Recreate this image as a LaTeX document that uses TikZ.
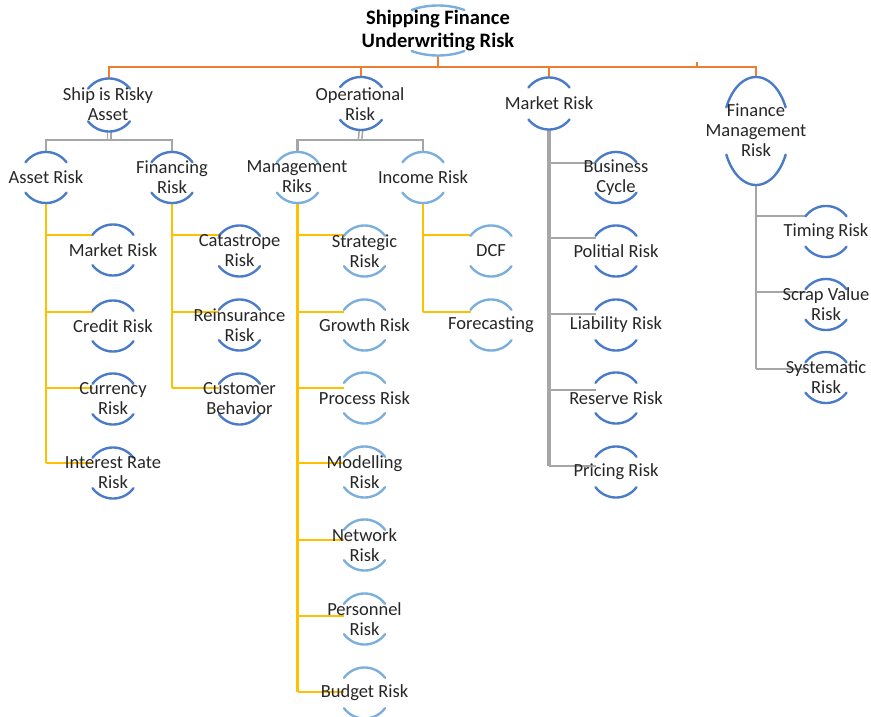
\documentclass[tikz,border=0pt]{standalone}
\usepackage{fontspec}
\setmainfont{Carlito}
\usetikzlibrary{calc}
\definecolor{orng}{HTML}{ED7D31}
\definecolor{yel}{HTML}{FFC000}
\definecolor{gry}{HTML}{A6A6A6}
\definecolor{blu}{HTML}{4A7BC8}
\definecolor{lblu}{HTML}{7AAEDD}
\definecolor{txtcol}{HTML}{262626}
\pgfdeclarelayer{bg}
\pgfsetlayers{bg,main}
\tikzset{
  txt/.style={font=\fontsize{18.5}{20}\selectfont, align=center, inner sep=0pt, text=txtcol},
  ttl/.style={font=\bfseries\fontsize{20.5}{23}\selectfont, align=center, inner sep=0pt, text=black},
  arcline/.style={line width=2.4pt, line cap=round},
  ol/.style={draw=orng, line width=2.5pt},
  yl/.style={draw=yel, line width=2.6pt},
  gl/.style={draw=gry, line width=2.8pt},
  dbl/.style={line width=1.6pt, double=white, double distance=1.8pt},
}
% name, cx, cy, rx, ry, angle, colour
\newcommand\rarcs[7]{%
  \pgfmathsetmacro\myA{180-#6}%
  \pgfmathsetmacro\myB{180+#6}%
  \pgfmathsetmacro\myC{360-#6}%
  \draw[arcline,#7] plot[domain=#6:\myA,samples=40] ({#2+#4*cos(\x)},{#3-#5*sin(\x)});
  \draw[arcline,#7] plot[domain=\myB:\myC,samples=40] ({#2+#4*cos(\x)},{#3-#5*sin(\x)});
  \coordinate (#1-t) at (#2,#3-#5);
  \coordinate (#1-b) at (#2,#3+#5);
}
% name, cx, cy, text, colour, branch y
\newcommand\kid[6]{%
  \rarcs{#1}{#2}{#3}{25.5}{25.5}{36.5}{#5}
  \node[txt] (#1) at (#2,#3) {#4};
  \coordinate (#1-j) at (#2-20.5,#6);
}
\begin{document}
\begin{tikzpicture}[x=1pt,y=-1pt]
\useasboundingbox (0,0) rectangle (871,717);
\clip (0,0) rectangle (871,717);

% title
\rarcs{title}{438}{30.5}{46}{25}{55}{lblu}
\node[ttl] (title) at (438,31) {Shipping Finance\\Underwriting Risk};

% level 1
\rarcs{ship}{109}{105}{26.5}{26.5}{38}{blu}
\node[txt] (ship) at (108,104) {Ship is Risky\\Asset};
\rarcs{oper}{361}{103.5}{26.5}{26.5}{38}{blu}
\node[txt] (oper) at (360,104) {Operational\\Risk};
\rarcs{mktL}{549}{103.5}{26}{26}{38}{blu}
\node[txt] (mktL) at (549,103) {Market Risk};
\rarcs{finm}{756}{131}{33}{54}{26}{blu}
\node[txt] (finm) at (756,130) {Finance\\Management\\Risk};

% level 2
\rarcs{assetrisk}{46}{177.5}{25.5}{25.5}{36.5}{blu}
\node[txt] (assetrisk) at (46,177) {Asset Risk};
\rarcs{financing}{172}{177.5}{25.5}{25.5}{36.5}{blu}
\node[txt] (financing) at (172,177) {Financing\\Risk};
\rarcs{mgmt}{297.5}{177.5}{25.5}{25.5}{36.5}{lblu}
\node[txt] (mgmt) at (297,177) {Management\\Riks};
\rarcs{income}{423}{177.5}{25.5}{25.5}{36.5}{lblu}
\node[txt] (income) at (423,177) {Income Risk};

% asset risk children
\kid{mr}{113}{250}{Market Risk}{blu}{235}
\kid{cr}{113}{326}{Credit Risk}{blu}{312}
\kid{cu}{113}{399}{Currency\\Risk}{blu}{388}
\kid{ir}{113}{473}{Interest Rate\\Risk}{blu}{463}
% financing children
\kid{cat}{239.5}{251}{Catastrope\\Risk}{blu}{235}
\kid{rei}{239.5}{325}{Reinsurance\\Risk}{blu}{312}
\kid{cub}{239.5}{399}{Customer\\Behavior}{blu}{388}
% management children
\kid{str}{364.5}{251}{Strategic\\Risk}{lblu}{235}
\kid{gro}{364.5}{325}{Growth Risk}{lblu}{312}
\kid{pro}{364.5}{398}{Process Risk}{lblu}{388}
\kid{mod}{364.5}{472}{Modelling\\Risk}{lblu}{463}
\kid{net}{364.5}{545}{Network\\Risk}{lblu}{540}
\kid{per}{364.5}{619}{Personnel\\Risk}{lblu}{616}
\kid{bud}{364.5}{693}{Budget Risk}{lblu}{692}
% income children
\kid{dcf}{491}{251}{DCF}{lblu}{235}
\kid{fore}{491}{325}{Forecasting}{lblu}{312}
% market risk children
\kid{bc}{616}{177.5}{Business\\Cycle}{blu}{163}
\kid{pol}{616}{251}{Politial Risk}{blu}{238}
\kid{lia}{616}{325}{Liability Risk}{blu}{314}
\kid{res}{616}{398}{Reserve Risk}{blu}{390}
\kid{pri}{616}{472}{Pricing Risk}{blu}{466}
% finance management children
\kid{tim}{826}{231.5}{Timing Risk}{blu}{216}
\kid{scr}{826}{304.5}{Scrap Value\\Risk}{blu}{292}
\kid{sys}{826}{377.5}{Systematic\\Risk}{blu}{369}

\begin{pgfonlayer}{bg}
% orange level-1 connectors
\coordinate (bus) at (438,67);
\coordinate (tick) at (697,62.5);
\draw[ol] (title-b) -- (bus);
\draw[ol] (ship-t) -- (ship-t |- bus) -- (finm-t |- bus) -- (finm-t);
\draw[ol] (oper-t) -- (oper-t |- bus);
\draw[ol] (mktL-t) -- (mktL-t |- bus);
\draw[ol] (tick) -- (tick |- bus);

% grey level-2 connectors
\coordinate (sbus) at (109,140);
\coordinate (obus) at (360,140);
\draw[gry,dbl] (ship-b) -- (sbus);
\draw[gl] (assetrisk-t) |- (sbus) -| (financing-t);
\draw[gry,dbl] (oper-b) -- (obus);
\draw[gl] (mgmt-t) |- (obus) -| (income-t);

% yellow connectors
\draw[yl] (assetrisk-b) -- (assetrisk-b |- ir-j);
\foreach \n in {mr,cr,cu,ir} \draw[yl] (assetrisk-b |- \n-j) -- (\n-j);
\draw[yl] (financing-b) -- (financing-b |- cub-j);
\foreach \n in {cat,rei,cub} \draw[yl] (financing-b |- \n-j) -- (\n-j);
\draw[yl] (mgmt-b) -- (mgmt-b |- bud-j);
\foreach \n in {str,gro,pro,mod,net,per,bud} \draw[yl] (mgmt-b |- \n-j) -- (\n-j);
\draw[yl] (income-b) -- (income-b |- fore-j);
\foreach \n in {dcf,fore} \draw[yl] (income-b |- \n-j) -- (\n-j);

% grey market risk / finance management connectors
\draw[gl,line width=3.4pt] (mktL-b) -- (mktL-b |- pri-j);
\foreach \n in {bc,pol,lia,res,pri} \draw[gl] (mktL-b |- \n-j) -- (\n-j);
\draw[gl] (finm-b) -- (finm-b |- sys-j);
\foreach \n in {tim,scr,sys} \draw[gl] (finm-b |- \n-j) -- (\n-j);
\end{pgfonlayer}
\end{tikzpicture}
\end{document}
